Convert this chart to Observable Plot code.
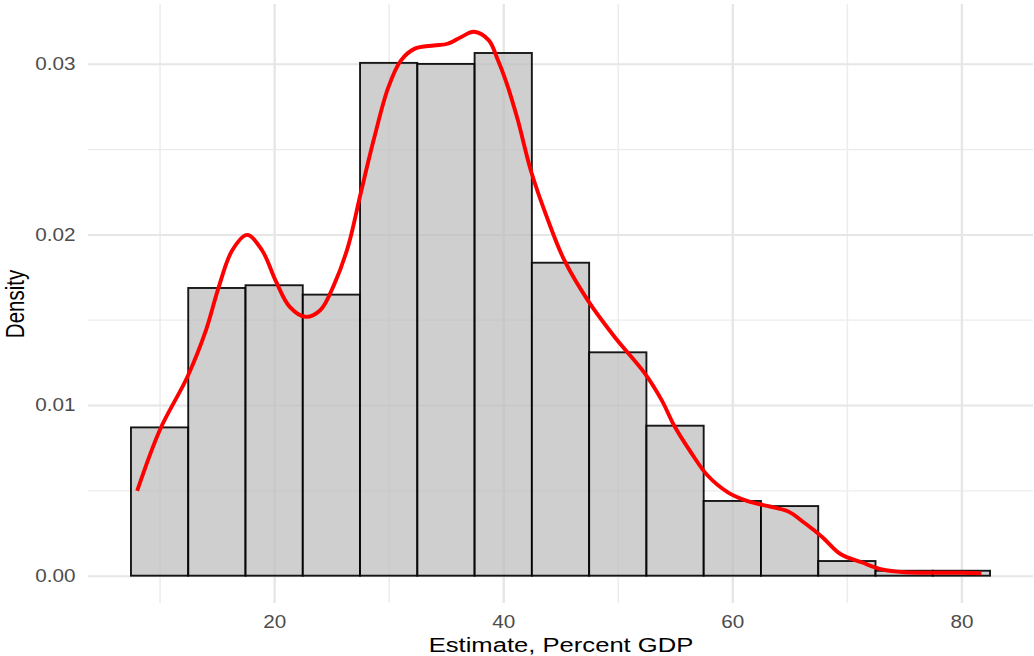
<!DOCTYPE html>
<html>
<head>
<meta charset="utf-8">
<script src="https://cdn.jsdelivr.net/npm/d3@7"></script>
<script src="https://cdn.jsdelivr.net/npm/@observablehq/plot@0.6"></script>
<style>
  html, body { margin: 0; padding: 0; background: #fff; }
</style>
</head>
<body>
<div id="chart"></div>
<script>
// ---- data ----
const binStart   = [7.5, 12.5, 17.5, 22.5, 27.5, 32.5, 37.5, 42.5, 47.5, 52.5, 57.5, 62.5, 67.5, 72.5, 77.5];
const binWidth   = 5;
const binDensity = [0.00869, 0.01686, 0.01702, 0.01647, 0.03005, 0.02999, 0.03063, 0.01834, 0.01309, 0.00879, 0.00438, 0.00408, 0.00086, 0.00029, 0.00029];

const curveX = [8.0, 10.0, 12.4, 14.0, 15.1, 16.3, 17.6, 18.9, 20.1, 21.3, 22.7, 24.0, 25.2, 26.4, 27.5, 28.7, 29.9, 31.0, 32.2, 33.9, 35.1, 36.3, 37.4, 38.7, 39.4, 40.2, 41.2, 42.4, 43.9, 45.3, 47.4, 49.7, 52.3, 53.8, 54.9, 56.4, 57.8, 59.6, 61.3, 63.1, 64.8, 66.3, 67.8, 69.4, 71.3, 73.0, 75.0, 77.7, 80.0, 81.7];
const curveY = [0.0050, 0.0086, 0.0117, 0.0144, 0.0169, 0.0191, 0.0200, 0.0191, 0.0173, 0.0158, 0.0152, 0.0156, 0.0171, 0.0193, 0.0224, 0.0257, 0.0286, 0.0302, 0.0309, 0.0311, 0.0312, 0.0316, 0.0319, 0.0314, 0.0304, 0.0290, 0.0268, 0.0237, 0.0208, 0.0185, 0.0161, 0.0140, 0.0119, 0.0103, 0.0088, 0.0072, 0.0059, 0.0049, 0.0044, 0.0041, 0.0038, 0.0031, 0.0023, 0.0013, 0.0008, 0.0004, 0.00023, 0.0002, 0.0002, 0.00017];

const xMajor = [20, 40, 60, 80];
const xMinor = [10, 30, 50, 70];
const yMajor = [0, 0.01, 0.02, 0.03];
const yMinor = [0.005, 0.015, 0.025];

const xTitle = "Estimate, Percent GDP";
const yTitle = "Density";

// ---- tables for the library ----
const bins = binStart.map((x0, i) => ({x1: x0, x2: x0 + binWidth, y1: 0, y2: binDensity[i]}));
const curve = curveX.map((x, i) => ({x, y: curveY[i]}));

const chart = Plot.plot({
  width: 1034,
  height: 656,
  marginTop: 4,
  marginBottom: 53,
  marginLeft: 88,
  marginRight: 1,
  x: {domain: [3.75, 86.25]},
  y: {domain: [-0.0016, 0.0335]},
  style: {fontFamily: "'Liberation Sans', Arial, Helvetica, sans-serif", background: "#fff"},
  marks: [
    Plot.ruleX(xMinor, {stroke: "#ececec", strokeWidth: 1.5}),
    Plot.ruleY(yMinor, {stroke: "#ececec", strokeWidth: 1.3}),
    Plot.ruleX(xMajor, {stroke: "#e6e6e6", strokeWidth: 2.4}),
    Plot.ruleY(yMajor, {stroke: "#e6e6e6", strokeWidth: 2}),
    Plot.rect(bins, {x1: "x1", x2: "x2", y1: "y1", y2: "y2",
      fill: "#bdbdbd", fillOpacity: 0.72, stroke: "#000", strokeOpacity: 0.9, strokeWidth: 1.9}),
    Plot.line(curve, {x: "x", y: "y", stroke: "#ff0000", strokeWidth: 3.9,
      curve: "catmull-rom", strokeLinecap: "butt"}),
    Plot.axisX(xMajor, {tickSize: 0, tickPadding: 12, fontSize: 18, fill: "#4d4d4d", label: null}),
    Plot.axisY(yMajor, {tickSize: 0, tickPadding: 13, fontSize: 18, fill: "#4d4d4d",
      tickFormat: d3.format(".2f"), label: null}),
    Plot.text([xTitle], {frameAnchor: "bottom", lineAnchor: "middle", textAnchor: "middle",
      dy: 42, fontSize: 21, fill: "#000"}),
    Plot.text([yTitle], {frameAnchor: "left", lineAnchor: "middle", textAnchor: "middle",
      rotate: -90, dx: -73, fontSize: 20.5, fill: "#000"})
  ]
});

// Reference glyphs are horizontally stretched; widen text to match.
chart.querySelectorAll("text").forEach((t) => {
  const g = t.closest("g[aria-label]");
  const label = g ? g.getAttribute("aria-label") : "";
  const s = /tick label/.test(label) ? 1.15 : 1.22;
  let tr = t.getAttribute("transform") || "";
  const x = t.getAttribute("x"), y = t.getAttribute("y");
  const isNum = (v) => v != null && /^-?[\d.]+$/.test(v);
  if (isNum(x) || isNum(y)) {
    tr = `translate(${isNum(x) ? x : 0},${isNum(y) ? y : 0}) ` + tr;
    if (isNum(x)) t.removeAttribute("x");
    if (isNum(y)) t.removeAttribute("y");
  }
  tr += /rotate\(/.test(tr) ? ` scale(1,${s})` : ` scale(${s},1)`;
  t.setAttribute("transform", tr.trim());
});

document.getElementById("chart").appendChild(chart);
</script>
</body>
</html>
